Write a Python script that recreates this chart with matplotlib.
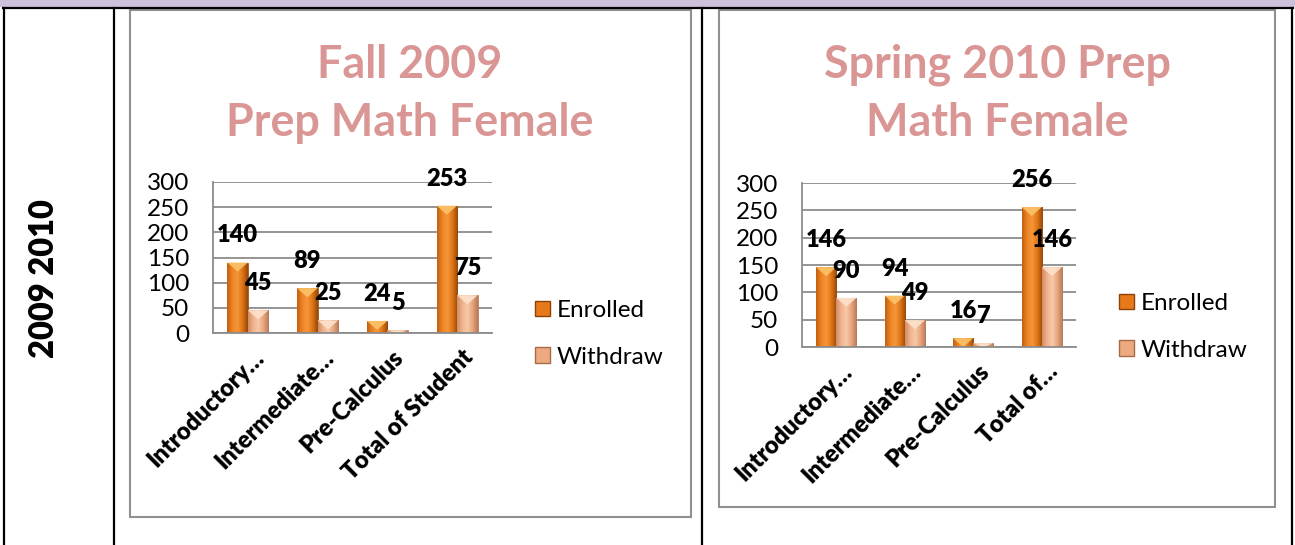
import matplotlib
matplotlib.use('Agg')
import matplotlib.pyplot as plt
import numpy as np
from matplotlib.colors import LinearSegmentedColormap
from matplotlib.patches import Rectangle, Polygon, Patch
from matplotlib.transforms import ScaledTranslation

plt.rcParams['font.family'] = ['Lato', 'DejaVu Sans']

# data
courses_fall = ['Introductory…', 'Intermediate…', 'Pre-Calculus', 'Total of Student']
courses_spring = ['Introductory…', 'Intermediate…', 'Pre-Calculus', 'Total of…']
enrolled_fall = [140, 89, 24, 253]
withdraw_fall = [45, 25, 5, 75]
enrolled_spring = [146, 94, 16, 256]
withdraw_spring = [90, 49, 7, 146]
y_ticks = [0, 50, 100, 150, 200, 250, 300]
series_names = ['Enrolled', 'Withdraw']
row_label = '2009 2010'

W, H = 1295, 545
fig = plt.figure(figsize=(W / 100, H / 100), dpi=100)

title_color = '#D99694'
grid_color = '#8C8C8C'
enr_cmap = LinearSegmentedColormap.from_list('enr', ['#C4600E', '#EE8424', '#F7953A', '#DD7414', '#97480A'])
wd_cmap = LinearSegmentedColormap.from_list('wd', ['#D38D66', '#F0B48E', '#F8C9A8', '#E6A47C', '#B8795A'])
enr_top, wd_top = '#FCC36A', '#FDE2CC'

# table frame, drawn in pixel coordinates
bg = fig.add_axes([0, 0, 1, 1])
bg.set_xlim(0, W)
bg.set_ylim(H, 0)
bg.axis('off')
bg.add_patch(Rectangle((0, 0), W, 7, color='#CCC0DA', lw=0))
bg.plot([3, 1293], [8, 8], color='black', lw=1.6)
for xl in [4, 113.5, 702, 1292]:
    bg.plot([xl, xl], [8, H], color='black', lw=1.6)
bg.add_patch(Rectangle((130, 10), 561, 507, fill=False, ec='#909090', lw=1.5))
bg.add_patch(Rectangle((719, 10), 556, 497, fill=False, ec='#909090', lw=1.5))
bg.text(44, 279, row_label, rotation=90, ha='center', va='center', fontsize=23.5, fontweight='heavy')


def shade(ax, bars, cmap, top_color, tri):
    grad = np.linspace(0, 1, 64).reshape(1, -1)
    for b in bars:
        x0, y0 = b.get_xy()
        w, h = b.get_width(), b.get_height()
        im = ax.imshow(grad, cmap=cmap, extent=(x0, x0 + w, y0, y0 + h), aspect='auto', zorder=2.1)
        im.set_clip_path(b)
        t = min(tri, h)
        p = Polygon([(x0, y0 + h), (x0 + w, y0 + h), (x0 + w / 2, y0 + h - t)], closed=True,
                    fc=top_color, ec='none', zorder=2.2, alpha=0.9)
        p.set_clip_path(b)
        ax.add_patch(p)


def draw_chart(px, cats, enrolled, withdraw, title, title_x, legend_xy):
    x0, x1, ytop, ybot = px
    ax = fig.add_axes([x0 / W, 1 - ybot / H, (x1 - x0) / W, (ybot - ytop) / H])
    x = np.arange(len(cats))
    w = 0.295
    b1 = ax.bar(x - w / 2, enrolled, w, color='#E8791A', ec='#8A4208', lw=0.5, zorder=2)
    b2 = ax.bar(x + w / 2, withdraw, w, color='#EDAA80', ec='#A86B48', lw=0.5, zorder=2)
    tri = 9 * 300 / (ybot - ytop)
    shade(ax, b1, enr_cmap, enr_top, tri)
    shade(ax, b2, wd_cmap, wd_top, tri)
    ax.set_xlim(-0.5, len(cats) - 0.5)
    ax.set_ylim(0, 300)
    ax.set_yticks(y_ticks)
    ax.tick_params(axis='y', length=0, pad=17, labelsize=17.5)
    ax.set_xticks([])
    ax.yaxis.grid(True, color=grid_color, lw=1.3)
    ax.set_axisbelow(True)
    for s in ['top', 'right']:
        ax.spines[s].set_visible(False)
    for s in ['left', 'bottom']:
        ax.spines[s].set_color(grid_color)
        ax.spines[s].set_linewidth(1.3)
    ax.patch.set_alpha(0)

    for bars, vals in [(b1, enrolled), (b2, withdraw)]:
        for b, v in zip(bars, vals):
            ax.annotate(str(v), (b.get_x() + b.get_width() / 2, v), xytext=(0, 19.5),
                        textcoords='offset points', ha='center', va='center',
                        fontsize=17, fontweight='heavy', zorder=5)

    off = ScaledTranslation(0.05, -0.13, fig.dpi_scale_trans)
    for i, lab in enumerate(cats):
        ax.text(i, 0, lab, transform=ax.get_xaxis_transform() + off, rotation=45,
                rotation_mode='anchor', ha='right', va='top', fontsize=17, fontweight='heavy')

    for j, line in enumerate(title):
        bg.text(title_x, 78 + 58 * j, line, ha='center', va='baseline', fontsize=32.3,
                fontweight='bold', color=title_color)

    handles = [Patch(facecolor='#E8791A', edgecolor='#8A4208'),
               Patch(facecolor='#EDAA80', edgecolor='#A86B48')]
    fig.legend(handles, series_names, loc='center left',
               bbox_to_anchor=(legend_xy[0] / W, 1 - legend_xy[1] / H),
               frameon=False, fontsize=17.5, handlelength=0.6, handleheight=0.6,
               handletextpad=0.3, labelspacing=1.05, borderpad=0, borderaxespad=0)


draw_chart((213, 492, 182, 333), courses_fall, enrolled_fall, withdraw_fall,
           ['Fall 2009', 'Prep Math Female'], 410, (535, 334))
draw_chart((802, 1076, 183, 347), courses_spring, enrolled_spring, withdraw_spring,
           ['Spring 2010 Prep', 'Math Female'], 997, (1119, 327))

fig.savefig('out.png', dpi=100)
